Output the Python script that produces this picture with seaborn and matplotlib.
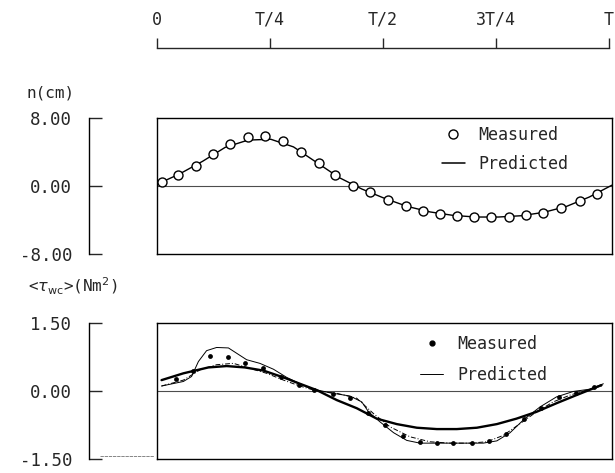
import numpy as np
import pandas as pd
import matplotlib
matplotlib.use("Agg")
import matplotlib.pyplot as plt
from matplotlib.lines import Line2D
import seaborn as sns

# ---------------- data (t as fraction of the wave period T) ----------------
time_ticks = [0, 0.25, 0.5, 0.75, 1.0]
time_labels = ["0", "T/4", "T/2", "3T/4", "T"]

eta_meas_t = [0.010, 0.047, 0.086, 0.122, 0.161, 0.201, 0.238, 0.278, 0.317,
              0.355, 0.391, 0.430, 0.469, 0.508, 0.547, 0.584, 0.623, 0.659,
              0.696, 0.734, 0.774, 0.810, 0.849, 0.889, 0.929, 0.968]
eta_meas = [0.46, 1.35, 2.39, 3.75, 4.98, 5.75, 5.87, 5.29, 4.05,
            2.66, 1.31, 0.05, -0.70, -1.60, -2.35, -2.97, -3.24, -3.55,
            -3.67, -3.67, -3.67, -3.44, -3.13, -2.59, -1.74, -0.93]

eta_pred_t = [0.0, 0.05, 0.1, 0.15, 0.2, 0.25, 0.3, 0.35, 0.4, 0.45, 0.5,
              0.55, 0.6, 0.65, 0.7, 0.75, 0.8, 0.85, 0.9, 0.95, 1.0]
eta_pred = [0.20, 1.43, 2.90, 4.55, 5.40, 5.50, 4.60, 2.80, 1.00, -0.35, -1.45,
            -2.40, -3.05, -3.45, -3.65, -3.65, -3.50, -3.10, -2.40, -1.30, 0.10]

tau_meas_t = [0.042, 0.079, 0.116, 0.155, 0.193, 0.232, 0.272, 0.311, 0.344,
              0.386, 0.424, 0.464, 0.501, 0.540, 0.578, 0.615, 0.651, 0.692,
              0.729, 0.767, 0.806, 0.844, 0.883, 0.921, 0.960]
tau_meas = [0.27, 0.44, 0.78, 0.74, 0.61, 0.50, 0.31, 0.14, 0.03,
            -0.06, -0.16, -0.49, -0.76, -0.99, -1.12, -1.15, -1.15, -1.15,
            -1.11, -0.95, -0.62, -0.38, -0.14, -0.04, 0.08]

# main prediction (bold line)
tau_pred_t = [0.010, 0.058, 0.113, 0.153, 0.193, 0.234, 0.278, 0.314, 0.351,
              0.395, 0.439, 0.483, 0.527, 0.571, 0.615, 0.659, 0.703, 0.747,
              0.790, 0.834, 0.878, 0.922, 0.977]
tau_pred = [0.24, 0.39, 0.52, 0.55, 0.52, 0.45, 0.30, 0.16, 0.02,
            -0.20, -0.38, -0.61, -0.73, -0.81, -0.84, -0.84, -0.81, -0.73,
            -0.61, -0.46, -0.27, -0.09, 0.13]

# thin envelope prediction
tau_env_t = [0.010, 0.058, 0.076, 0.091, 0.109, 0.131, 0.157, 0.177, 0.197,
             0.226, 0.256, 0.285, 0.314, 0.336, 0.380, 0.424, 0.450, 0.465,
             0.490, 0.520, 0.549, 0.578, 0.717, 0.747, 0.776, 0.805, 0.842,
             0.878, 0.915, 0.951, 0.981]
tau_env = [0.11, 0.21, 0.32, 0.65, 0.89, 0.96, 0.95, 0.82, 0.69,
           0.61, 0.48, 0.30, 0.16, 0.06, -0.04, -0.11, -0.24, -0.46,
           -0.68, -0.92, -1.09, -1.15, -1.15, -1.10, -0.92, -0.64, -0.35,
           -0.13, -0.01, 0.04, 0.16]

# dash-dot prediction
tau_dd_t = [0.010, 0.058, 0.095, 0.131, 0.168, 0.204, 0.241, 0.278, 0.314,
            0.351, 0.395, 0.439, 0.476, 0.512, 0.556, 0.600, 0.644, 0.688,
            0.725, 0.761, 0.798, 0.834, 0.871, 0.908, 0.944, 0.977]
tau_dd = [0.11, 0.24, 0.47, 0.58, 0.61, 0.50, 0.39, 0.24, 0.11,
          0.00, -0.05, -0.16, -0.50, -0.79, -1.01, -1.12, -1.15, -1.15,
          -1.12, -0.98, -0.72, -0.46, -0.24, -0.09, 0.02, 0.11]

# ---------------- style ----------------
sns.set_style("white")
plt.rcParams["font.family"] = ["DejaVu Sans Mono", "DejaVu Sans"]
plt.rcParams["mathtext.fontset"] = "dejavusans"

W, H = 615, 473
fig = plt.figure(figsize=(W / 100, H / 100), dpi=100)


def fx(px):
    return px / W


def fy(py):
    return 1 - py / H


BOX_L, BOX_R = 157, 612
P1_T, P1_B = 118, 254
P2_T, P2_B = 323, 459
AX_X = 89

ax1 = fig.add_axes([fx(BOX_L), fy(P1_B), fx(BOX_R - BOX_L), (P1_B - P1_T) / H])
ax2 = fig.add_axes([fx(BOX_L), fy(P2_B), fx(BOX_R - BOX_L), (P2_B - P2_T) / H])

for ax, lim in ((ax1, (-8, 8)), (ax2, (-1.5, 1.5))):
    ax.set_xlim(0, 1)
    ax.set_ylim(*lim)
    ax.set_xticks([])
    ax.set_yticks([])
    for s in ax.spines.values():
        s.set_color("black")
        s.set_linewidth(1.0)
    ax.axhline(0, color="0.3", lw=0.8, zorder=1)

# ---------------- top panel ----------------
df_eta_m = pd.DataFrame({"t": eta_meas_t, "v": eta_meas})
df_eta_p = pd.DataFrame({"t": eta_pred_t, "v": eta_pred})
sns.lineplot(data=df_eta_p, x="t", y="v", ax=ax1, color="black", lw=1.0,
             errorbar=None, zorder=2)
sns.scatterplot(data=df_eta_m, x="t", y="v", ax=ax1, marker="o", s=42,
                facecolor="white", edgecolor="black", linewidth=1.0, zorder=3)
ax1.set_xlabel("")
ax1.set_ylabel("")

# ---------------- bottom panel ----------------
sns.lineplot(x=tau_pred_t, y=tau_pred, ax=ax2, color="black", lw=1.7,
             errorbar=None, zorder=2)
sns.lineplot(x=tau_env_t, y=tau_env, ax=ax2, color="black", lw=0.7,
             errorbar=None, zorder=2)
sns.lineplot(x=tau_dd_t, y=tau_dd, ax=ax2, color="black", lw=0.7,
             errorbar=None, zorder=2, linestyle=(0, (5, 2, 1, 2)))
sns.scatterplot(x=tau_meas_t, y=tau_meas, ax=ax2, marker="o", s=12,
                color="black", linewidth=0, zorder=3)
ax2.set_xlabel("")
ax2.set_ylabel("")

# ---------------- legends ----------------
leg_font = {"family": "DejaVu Sans Mono", "size": 12}
h1 = [Line2D([], [], ls="", marker="o", ms=6.5, mfc="white", mec="black", mew=1.0),
      Line2D([], [], color="black", lw=1.1)]
ax1.legend(h1, ["Measured", "Predicted"], loc="upper left",
           bbox_to_anchor=(0.626, 0.94), frameon=False, prop=leg_font,
           borderpad=0, borderaxespad=0, handlelength=1.4, handletextpad=0.8,
           labelspacing=0.66)
h2 = [Line2D([], [], ls="", marker="o", ms=3.5, mfc="black", mec="black"),
      Line2D([], [], color="black", lw=0.7)]
ax2.legend(h2, ["Measured", "Predicted"], loc="upper left",
           bbox_to_anchor=(0.578, 0.915), frameon=False, prop=leg_font,
           borderpad=0, borderaxespad=0, handlelength=1.4, handletextpad=0.84,
           labelspacing=0.78)

# ---------------- separate left value axes ----------------
def value_axis(top, bottom, lim, ticks, labels):
    a = fig.add_axes([fx(AX_X), fy(bottom), 0.0001, (bottom - top) / H])
    a.set_ylim(*lim)
    a.set_xticks([])
    a.set_yticks(ticks)
    a.set_yticklabels(labels)
    a.patch.set_visible(False)
    for k in ("top", "right", "bottom"):
        a.spines[k].set_visible(False)
    a.spines["left"].set_linewidth(1.0)
    a.spines["left"].set_color("black")
    a.tick_params(axis="y", direction="in", length=9, width=1.0, pad=12,
                  labelsize=12.5, left=True, labelleft=True)
    return a


value_axis(P1_T, P1_B, (-8, 8), [8, 0, -8], ["8.00", "0.00", "-8.00"])
value_axis(P2_T, P2_B, (-1.5, 1.5), [1.5, 0, -1.5], ["1.50", "0.00", "-1.50"])

fig.text(fx(27), fy(93), "n(cm)", ha="left", va="center", fontsize=11.5)
fig.text(fx(28), fy(286), r"<$\tau_{\mathrm{wc}}$>(Nm$^{2}$)", ha="left",
         va="center", fontsize=11.5)

# faint stray line at the -1.50 level
fig.add_artist(Line2D([fx(100), fx(154)], [fy(456), fy(456)],
                      transform=fig.transFigure, lw=0.6, color="0.45",
                      ls=(0, (4, 1))))

# ---------------- time axis on top ----------------
axt = fig.add_axes([fx(BOX_L), fy(48), fx(BOX_R - BOX_L - 3), 0.0001])
axt.set_xlim(0, 1)
axt.set_yticks([])
axt.patch.set_visible(False)
for k in ("left", "right", "bottom"):
    axt.spines[k].set_visible(False)
axt.spines["top"].set_linewidth(1.0)
axt.xaxis.tick_top()
axt.set_xticks(time_ticks)
axt.set_xticklabels(time_labels)
axt.tick_params(axis="x", direction="out", length=7, width=1.0, pad=7,
                labelsize=12, top=True, bottom=False, labeltop=True,
                labelbottom=False)

fig.savefig("out.png", dpi=100)
